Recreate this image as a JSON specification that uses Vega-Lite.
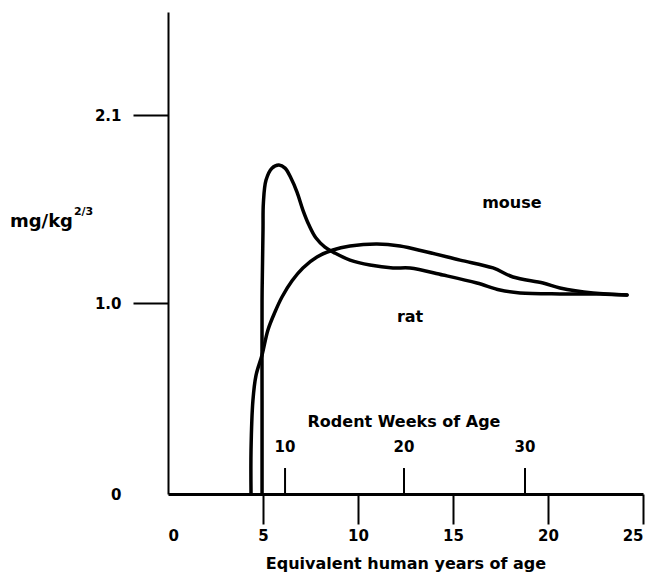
{
  "$schema": "https://vega.github.io/schema/vega-lite/v6.json",
  "autosize": "none",
  "width": 475,
  "height": 494,
  "padding": {"left": 168, "top": 0, "right": 3, "bottom": 87},
  "background": "white",
  "config": {"view": {"stroke": null}, "font": "DejaVu Sans"},
  "datasets": {
    "curves": [
      {"species": "rat", "i": 1, "year": 4.95, "value": 0},
      {"species": "rat", "i": 2, "year": 4.95, "value": 0.49},
      {"species": "rat", "i": 3, "year": 4.95, "value": 1.018},
      {"species": "rat", "i": 4, "year": 5.0, "value": 1.427},
      {"species": "rat", "i": 5, "year": 5.02, "value": 1.585},
      {"species": "rat", "i": 6, "year": 5.16, "value": 1.719},
      {"species": "rat", "i": 7, "year": 5.47, "value": 1.789},
      {"species": "rat", "i": 8, "year": 5.84, "value": 1.807},
      {"species": "rat", "i": 9, "year": 6.16, "value": 1.789},
      {"species": "rat", "i": 10, "year": 6.47, "value": 1.731},
      {"species": "rat", "i": 11, "year": 6.79, "value": 1.649},
      {"species": "rat", "i": 12, "year": 7.1, "value": 1.544},
      {"species": "rat", "i": 13, "year": 7.42, "value": 1.456},
      {"species": "rat", "i": 14, "year": 7.79, "value": 1.38},
      {"species": "rat", "i": 15, "year": 8.26, "value": 1.327},
      {"species": "rat", "i": 16, "year": 8.79, "value": 1.292},
      {"species": "rat", "i": 17, "year": 9.58, "value": 1.251},
      {"species": "rat", "i": 18, "year": 10.63, "value": 1.222},
      {"species": "rat", "i": 19, "year": 11.84, "value": 1.205},
      {"species": "rat", "i": 20, "year": 12.74, "value": 1.205},
      {"species": "rat", "i": 21, "year": 14.47, "value": 1.164},
      {"species": "rat", "i": 22, "year": 16.26, "value": 1.117},
      {"species": "rat", "i": 23, "year": 17.47, "value": 1.076},
      {"species": "rat", "i": 24, "year": 18.53, "value": 1.059},
      {"species": "rat", "i": 25, "year": 20.63, "value": 1.053},
      {"species": "rat", "i": 26, "year": 22.74, "value": 1.053},
      {"species": "rat", "i": 27, "year": 24.16, "value": 1.047},
      {"species": "mouse", "i": 1, "year": 4.37, "value": 0},
      {"species": "mouse", "i": 2, "year": 4.37, "value": 0.23},
      {"species": "mouse", "i": 3, "year": 4.47, "value": 0.49},
      {"species": "mouse", "i": 4, "year": 4.63, "value": 0.62},
      {"species": "mouse", "i": 5, "year": 4.95, "value": 0.728},
      {"species": "mouse", "i": 6, "year": 5.26, "value": 0.859},
      {"species": "mouse", "i": 7, "year": 5.63, "value": 0.953},
      {"species": "mouse", "i": 8, "year": 6.0, "value": 1.035},
      {"species": "mouse", "i": 9, "year": 6.53, "value": 1.13},
      {"species": "mouse", "i": 10, "year": 7.1, "value": 1.205},
      {"species": "mouse", "i": 11, "year": 7.84, "value": 1.269},
      {"species": "mouse", "i": 12, "year": 8.68, "value": 1.31},
      {"species": "mouse", "i": 13, "year": 9.58, "value": 1.333},
      {"species": "mouse", "i": 14, "year": 11.0, "value": 1.345},
      {"species": "mouse", "i": 15, "year": 12.21, "value": 1.333},
      {"species": "mouse", "i": 16, "year": 13.63, "value": 1.298},
      {"species": "mouse", "i": 17, "year": 15.37, "value": 1.251},
      {"species": "mouse", "i": 18, "year": 17.11, "value": 1.205},
      {"species": "mouse", "i": 19, "year": 18.16, "value": 1.152},
      {"species": "mouse", "i": 20, "year": 19.74, "value": 1.117},
      {"species": "mouse", "i": 21, "year": 20.63, "value": 1.088},
      {"species": "mouse", "i": 22, "year": 22.37, "value": 1.058},
      {"species": "mouse", "i": 23, "year": 24.16, "value": 1.047}
    ],
    "rodentWeeks": [
      {"weeks": 10, "year": 6.16, "value": 0, "tickTop": 0.136, "labelAt": 0.246},
      {"weeks": 20, "year": 12.42, "value": 0, "tickTop": 0.136, "labelAt": 0.246},
      {"weeks": 30, "year": 18.79, "value": 0, "tickTop": 0.136, "labelAt": 0.246}
    ],
    "notes": [
      {"text": "mouse", "year": 18.1, "value": 1.585},
      {"text": "rat", "year": 12.74, "value": 0.927},
      {"text": "Rodent Weeks of Age", "year": 12.42, "value": 0.377}
    ],
    "ylabel": [
      {"text": "mg/kg", "year": -8.32, "value": 1.474}
    ],
    "ylabelSup": [
      {"text": "2/3", "year": -4.95, "value": 1.535}
    ]
  },
  "encoding": {
    "x": {
      "field": "year",
      "type": "quantitative",
      "scale": {"domain": [0, 25], "nice": false, "zero": false},
      "axis": {
        "values": [0, 5, 10, 15, 20, 25],
        "format": "d",
        "title": "Equivalent human years of age",
        "titleFont": "DejaVu Sans",
        "titleFontSize": 16,
        "titleFontWeight": "bold",
        "titleColor": "black",
        "titlePadding": 12,
        "tickSize": 30,
        "tickWidth": 2,
        "tickColor": "black",
        "tickOpacity": {"condition": {"test": "datum.value === 0", "value": 0}, "value": 1},
        "domainColor": "black",
        "domainWidth": 3,
        "labelFont": "DejaVu Sans",
        "labelFontSize": 15,
        "labelFontWeight": "bold",
        "labelColor": "black",
        "labelPadding": 4,
        "grid": false
      }
    },
    "y": {
      "field": "value",
      "type": "quantitative",
      "scale": {"domain": [0, 1, 2.1, 2.7], "range": [494, 303, 115, 12], "nice": false},
      "axis": {
        "values": [0, 1, 2.1],
        "labelExpr": "datum.value === 0 ? '0' : format(datum.value, '.1f')",
        "title": null,
        "tickSize": 35,
        "tickWidth": 2,
        "tickColor": "black",
        "tickOpacity": {"condition": {"test": "datum.value === 0", "value": 0}, "value": 1},
        "domainColor": "black",
        "domainWidth": 2,
        "labelFont": "DejaVu Sans",
        "labelFontSize": 15,
        "labelFontWeight": "bold",
        "labelColor": "black",
        "labelPadding": 12,
        "grid": false
      }
    }
  },
  "layer": [
    {
      "data": {"name": "curves"},
      "mark": {"type": "line", "interpolate": "catmull-rom", "color": "black", "strokeWidth": 3.5, "strokeCap": "round", "strokeJoin": "round"},
      "encoding": {
        "detail": {"field": "species"},
        "order": {"field": "i", "type": "quantitative"}
      }
    },
    {
      "data": {"name": "rodentWeeks"},
      "mark": {"type": "rule", "color": "black", "strokeWidth": 2},
      "encoding": {
        "y2": {"field": "tickTop"}
      }
    },
    {
      "data": {"name": "rodentWeeks"},
      "mark": {"type": "text", "font": "DejaVu Sans", "fontSize": 15, "fontWeight": "bold", "color": "black", "baseline": "middle"},
      "encoding": {
        "y": {"field": "labelAt", "type": "quantitative"},
        "text": {"field": "weeks", "type": "quantitative"}
      }
    },
    {
      "data": {"name": "notes"},
      "mark": {"type": "text", "font": "DejaVu Sans", "fontSize": 16, "fontWeight": "bold", "color": "black", "baseline": "middle"},
      "encoding": {"text": {"field": "text"}}
    },
    {
      "data": {"name": "ylabel"},
      "mark": {"type": "text", "font": "DejaVu Sans", "fontSize": 18, "fontWeight": "bold", "color": "black", "align": "left", "baseline": "middle"},
      "encoding": {"text": {"field": "text"}}
    },
    {
      "data": {"name": "ylabelSup"},
      "mark": {"type": "text", "font": "DejaVu Sans", "fontSize": 11, "fontWeight": "bold", "color": "black", "align": "left", "baseline": "middle"},
      "encoding": {"text": {"field": "text"}}
    }
  ]
}
